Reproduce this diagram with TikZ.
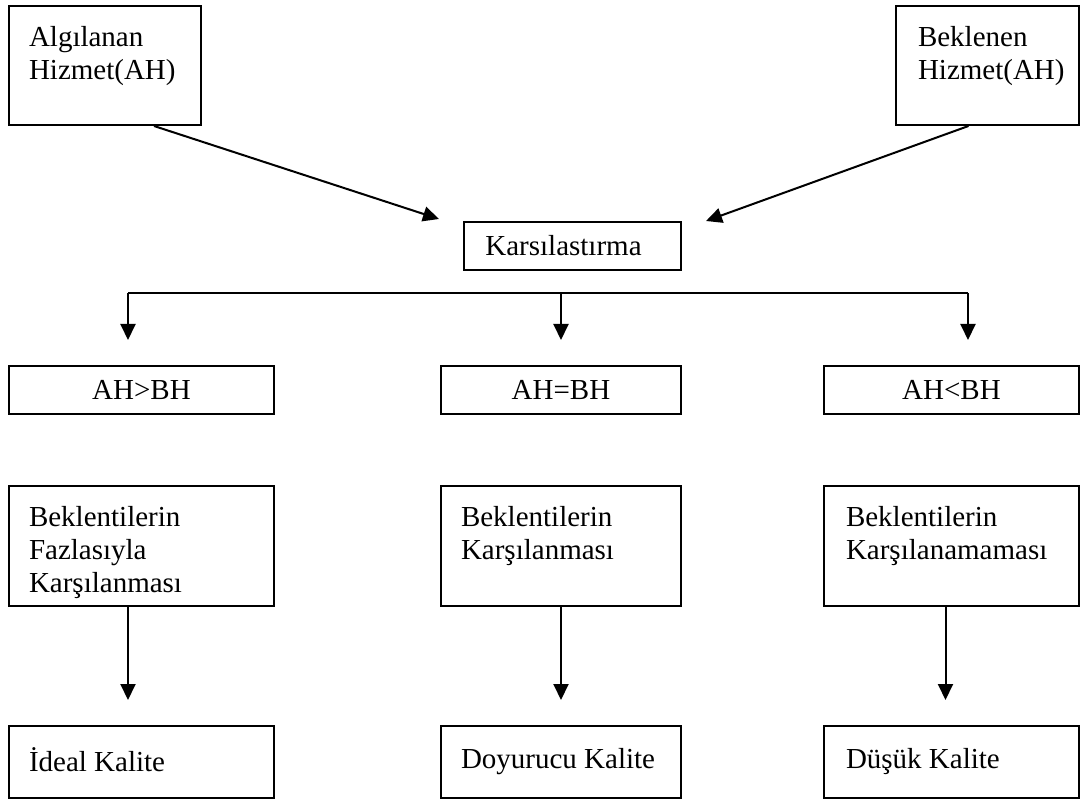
\documentclass[tikz,border=0pt]{standalone}
\usepackage{fontspec}
\setmainfont{Liberation Serif}
\usetikzlibrary{arrows.meta}
\newcommand\boxfont{\fontsize{29}{33}\selectfont}
\begin{document}
\begin{tikzpicture}[x=1pt, y=-1pt, line width=2pt, >={Triangle[length=16pt,width=15pt]},
  box/.style={rectangle, draw, anchor=north west, inner sep=0pt, font=\boxfont},
  lbl/.style={anchor=north west, align=left, inner sep=0pt, font=\boxfont}]
\useasboundingbox (0,0) rectangle (1080,799);
\begin{scope}
% top row
\node[box, minimum width=192pt, minimum height=119pt] (ah) at (8,5) {};
\node[box, minimum width=183pt, minimum height=119pt] (bh) at (895,5) {};
\node[box, minimum width=217pt, minimum height=48pt] (karsi) at (463,221) {Karsılastırma\hspace*{18pt}};
% comparison row
\node[box, minimum width=265pt, minimum height=48pt] (gt) at (8,365) {AH>BH};
\node[box, minimum width=240pt, minimum height=48pt] (eq) at (440,365) {AH=BH};
\node[box, minimum width=255pt, minimum height=48pt] (lt) at (823,365) {AH<BH};
% expectations row
\node[box, minimum width=265pt, minimum height=120pt] (fz) at (8,485) {};
\node[box, minimum width=240pt, minimum height=120pt] (ks) at (440,485) {};
\node[box, minimum width=255pt, minimum height=120pt] (kn) at (823,485) {};
% quality row
\node[box, minimum width=265pt, minimum height=72pt] (id) at (8,725) {};
\node[box, minimum width=240pt, minimum height=72pt] (dy) at (440,725) {};
\node[box, minimum width=255pt, minimum height=72pt] (ds) at (823,725) {};
\end{scope}
\begin{scope}
\node[lbl] (ahtxt) at ([shift={(20,20)}]ah.north west) {Algılanan\\Hizmet(AH)};
\node[lbl] (bhtxt) at ([shift={(22,20)}]bh.north west) {Beklenen\\Hizmet(AH)};
\node[lbl] (fztxt) at ([shift={(20,20)}]fz.north west) {Beklentilerin\\Fazlasıyla\\Karşılanması};
\node[lbl] (kstxt) at ([shift={(20,20)}]ks.north west) {Beklentilerin\\Karşılanması};
\node[lbl] (kntxt) at ([shift={(22,20)}]kn.north west) {Beklentilerin\\Karşılanamaması};
\node[lbl] (idtxt) at ([shift={(20,22)}]id.north west) {İdeal Kalite};
\node[lbl] (dytxt) at ([shift={(20,22)}]dy.north west) {Doyurucu Kalite};
\node[lbl] (dstxt) at ([shift={(22,22)}]ds.north west) {Düşük Kalite};
\end{scope}
\begin{scope}
\draw[->] ([xshift=49pt]ah.south) -- ([shift={(-24pt,2pt)}]karsi.north west);
\draw[->] ([xshift=-19pt]bh.south) -- ([shift={(24pt,0pt)}]karsi.north east);
\coordinate (bl) at (128,293);
\coordinate (br) at (968,293);
\draw (bl) -- (br);
\draw[->, shorten >=25pt] (bl) -- (bl |- gt.north);
\draw[->, shorten >=25pt] (bl -| eq.north) -- (eq.north);
\draw[->, shorten >=25pt] (br) -- (br |- lt.north);
\draw[->, shorten >=25pt] (fz.south -| bl) -- (id.north -| bl);
\draw[->, shorten >=25pt] (ks.south) -- (dy.north);
\draw[->, shorten >=25pt] ([xshift=-6pt]kn.south) -- ([xshift=-6pt]ds.north);
\end{scope}
\end{tikzpicture}
\end{document}
